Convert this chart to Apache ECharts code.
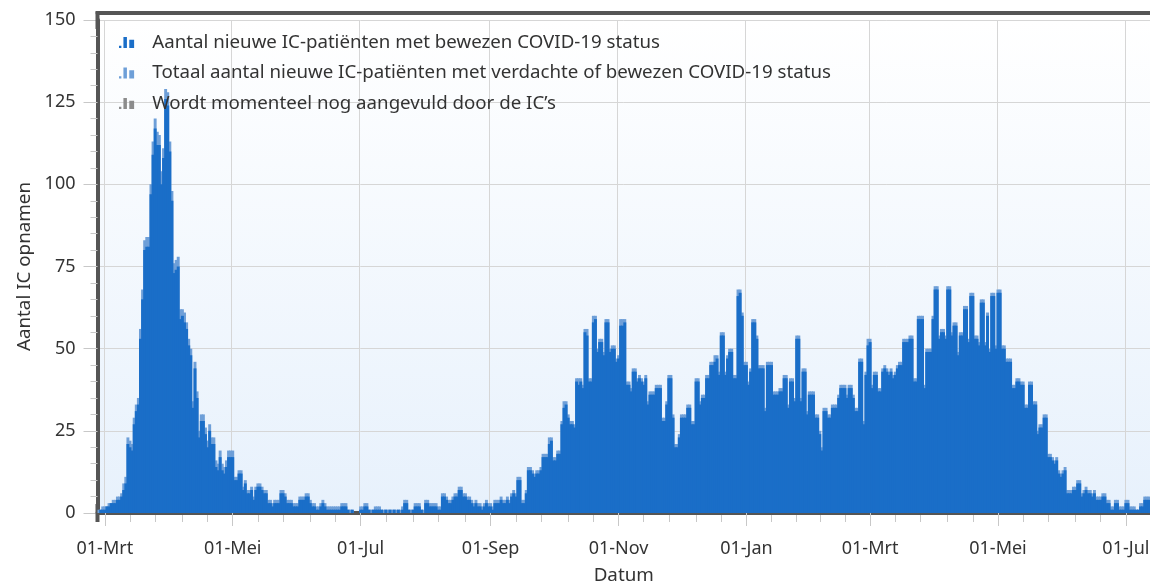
<!DOCTYPE html>
<html>
<head>
<meta charset="utf-8">
<script src="https://cdn.jsdelivr.net/npm/echarts@6/dist/echarts.min.js"></script>
<style>
html,body{margin:0;padding:0;background:#fff;}
#c{width:1150px;height:587px;}
</style>
</head>
<body>
<div id="c"></div>
<script>
// Eerste dag van de reeks (27 feb 2020), één categorie per dag
const startDatum = Date.UTC(2020, 1, 27);
const maanden = ['Jan','Feb','Mrt','Apr','Mei','Jun','Jul','Aug','Sep','Okt','Nov','Dec'];

// Totaal aantal nieuwe IC-patiënten (verdacht of bewezen), per dag
const totaal = [
/*0*/   1,1,2,2,2,3,3,4,4,5,
/*10*/  5,6,9,11,23,22,21,29,33,35,
/*20*/  56,68,83,84,84,100,113,120,116,115,
/*30*/  104,111,129,128,113,98,76,77,78,62,
/*40*/  62,61,58,53,50,34,46,37,25,30,
/*50*/  30,26,22,27,23,23,16,15,19,15,
/*60*/  14,16,19,19,19,11,11,13,13,8,
/*70*/  10,7,7,8,5,8,9,9,8,7,
/*80*/  7,4,4,3,4,4,4,7,7,6,
/*90*/  4,4,4,3,3,3,5,5,5,6,
/*100*/ 6,4,3,3,2,2,3,4,3,2,
/*110*/ 2,2,2,2,2,2,3,3,3,1,
/*120*/ 1,1,0,0,0,2,2,3,3,1,
/*130*/ 1,1,2,2,2,1,1,1,1,1,
/*140*/ 1,1,1,1,1,2,4,4,1,1,
/*150*/ 1,3,3,3,1,1,4,4,3,3,
/*160*/ 3,3,2,2,6,6,5,4,4,5,
/*170*/ 6,6,8,8,6,6,5,5,4,3,
/*180*/ 4,3,3,2,3,4,3,3,2,4,
/*190*/ 4,4,5,4,4,5,4,6,7,6,
/*200*/ 11,11,4,4,7,14,14,13,12,13,
/*210*/ 13,14,18,18,18,23,23,17,17,19,
/*220*/ 19,28,34,34,30,28,28,27,41,41,
/*230*/ 41,39,56,56,41,41,60,60,50,53,
/*240*/ 53,49,59,59,50,51,51,47,48,59,
/*250*/ 59,59,40,40,38,44,44,41,42,41,
/*260*/ 40,42,34,37,37,37,39,39,39,29,
/*270*/ 29,34,42,42,30,21,21,24,30,30,
/*280*/ 30,33,33,28,28,41,41,34,36,36,
/*290*/ 42,42,46,46,48,48,43,55,55,43,
/*300*/ 48,50,50,42,42,68,68,61,46,46,
/*310*/ 40,44,59,59,54,45,45,45,32,46,
/*320*/ 46,46,37,37,37,38,38,42,42,33,
/*330*/ 41,41,35,54,54,35,44,44,31,37,
/*340*/ 37,37,30,30,25,20,32,32,30,30,
/*350*/ 33,33,33,36,39,39,39,36,39,39,
/*360*/ 36,32,32,47,47,28,43,53,53,39,
/*370*/ 43,43,38,38,44,45,44,43,44,42,
/*380*/ 43,45,46,46,53,53,53,54,54,41,
/*390*/ 41,60,60,60,39,50,50,50,60,69,
/*400*/ 69,54,56,56,54,69,69,55,58,58,
/*410*/ 49,55,55,63,63,53,67,67,54,54,
/*420*/ 52,65,65,52,61,50,67,67,51,68,
/*430*/ 68,51,51,47,47,47,39,39,41,41,
/*440*/ 40,40,33,33,40,40,34,34,25,27,
/*450*/ 27,30,30,18,18,17,16,17,13,12,
/*460*/ 13,14,7,7,7,8,8,10,10,6,
/*470*/ 7,8,7,7,6,7,5,5,5,6,
/*480*/ 6,4,4,2,2,4,4,2,2,2,
/*490*/ 4,4,2,2,2,1,1,3,3,5,
/*500*/ 5,5
];

// Deel daarvan met (nog) alleen verdachte status (lichte top van de staaf)
const verdacht = [
/*0*/   1,0,1,1,0,1,0,1,1,1,
/*10*/  1,1,2,2,2,2,2,2,2,2,
/*20*/  3,3,3,3,3,3,4,3,4,3,
/*30*/  4,3,3,4,3,3,3,3,3,3,
/*40*/  2,3,2,2,2,2,2,2,2,2,
/*50*/  2,2,2,2,2,2,2,2,2,2,
/*60*/  2,2,2,2,2,1,1,1,1,1,
/*70*/  1,1,1,1,1,1,1,1,1,1,
/*80*/  1,1,1,1,1,1,1,1,1,1,
/*90*/  1,1,1,1,1,1,1,1,1,1,
/*100*/ 1,1,1,1,1,1,1,1,1,1,
/*110*/ 1,1,1,1,1,1,1,1,1,0,
/*120*/ 1,0,0,0,0,1,1,1,1,0,
/*130*/ 1,0,1,1,1,0,1,0,1,0,
/*140*/ 1,0,1,0,1,1,1,1,0,1,
/*150*/ 0,1,1,1,0,1,1,1,1,1,
/*160*/ 1,1,1,1,1,1,1,1,1,1,
/*170*/ 1,1,1,1,1,1,1,1,1,1,
/*180*/ 1,1,1,1,1,1,1,1,1,1,
/*190*/ 1,1,1,1,1,1,1,1,1,1,
/*200*/ 1,1,1,1,1,1,1,1,1,1,
/*210*/ 1,1,1,1,1,2,1,1,1,1,
/*220*/ 1,1,2,1,1,1,1,1,1,2,
/*230*/ 1,1,1,2,1,1,2,1,1,1,
/*240*/ 1,1,1,1,1,1,1,1,1,2,
/*250*/ 2,1,1,1,1,1,1,1,1,1,
/*260*/ 1,1,1,1,1,1,1,1,1,1,
/*270*/ 1,1,1,1,1,1,1,1,1,1,
/*280*/ 1,1,1,1,1,1,1,1,1,1,
/*290*/ 1,1,1,1,2,1,1,1,1,1,
/*300*/ 1,1,1,1,1,2,1,1,1,1,
/*310*/ 1,1,1,1,1,1,1,1,1,1,
/*320*/ 1,1,1,1,1,1,1,1,1,1,
/*330*/ 1,1,1,1,1,1,1,1,1,1,
/*340*/ 1,1,1,1,1,1,1,1,1,1,
/*350*/ 1,1,1,1,1,1,1,1,1,1,
/*360*/ 1,1,1,1,1,1,1,2,1,1,
/*370*/ 1,1,1,1,1,1,1,1,1,1,
/*380*/ 1,1,1,1,1,1,1,1,1,1,
/*390*/ 1,1,1,1,1,1,1,1,1,1,
/*400*/ 1,1,1,1,1,1,1,1,1,1,
/*410*/ 1,1,1,1,1,1,1,1,1,1,
/*420*/ 1,1,1,1,1,1,1,1,1,1,
/*430*/ 1,1,1,1,1,1,1,1,1,1,
/*440*/ 1,1,1,1,1,1,1,1,1,1,
/*450*/ 1,1,1,1,1,1,1,1,1,1,
/*460*/ 1,1,1,1,1,1,1,1,1,1,
/*470*/ 1,1,1,1,1,1,1,1,1,1,
/*480*/ 1,1,1,1,1,1,1,1,1,1,
/*490*/ 1,1,1,1,1,0,0,1,1,1,
/*500*/ 1,1
];

// Wordt momenteel nog aangevuld (niet zichtbaar in dit venster)
const aangevuld = [];

const yTicks = [0, 25, 50, 75, 100, 125, 150];

const namen = [
  'Aantal nieuwe IC-patiënten met bewezen COVID-19 status',
  'Totaal aantal nieuwe IC-patiënten met verdachte of bewezen COVID-19 status',
  'Wordt momenteel nog aangevuld door de IC\u2019s'
];

// ---- afgeleide structuren ----
const dagen = totaal.map((_, i) => new Date(startDatum + i * 86400000));
const categorieen = dagen.map(d => d.toISOString().slice(0, 10));
const bewezen = totaal.map((t, i) => t - verdacht[i]);

const isMajor = i => { const d = dagen[i]; return d.getUTCDate() === 1 && d.getUTCMonth() % 2 === 0; };
const majors = [];
dagen.forEach((d, i) => { if (isMajor(i)) majors.push(i); });
const minorSet = new Set();
for (let k = 0; k + 1 < majors.length; k++) {
  const a = majors[k], b = majors[k + 1];
  for (let j = 1; j < 5; j++) minorSet.add(a + Math.round(j * (b - a) / 5));
}
const fmt = v => { const d = new Date(v + 'T00:00:00Z'); return '01-' + maanden[d.getUTCMonth()]; };

const FONT = 'Noto Sans';
const FS_TICK = 18;
const FS_LEG = 18.7;
const FS_NAME = 18.8;
const iconPath = 'path://M0,84h23v23h-23z M43,0h34v107h-34z M100,26h47v81h-47z';

const chart = echarts.init(document.getElementById('c'), null, {renderer: 'canvas'});
chart.setOption({
  animation: false,
  backgroundColor: '#ffffff',
  textStyle: {fontFamily: FONT},
  grid: {
    left: 97.5, right: 0, top: 20, bottom: 74,
    containLabel: false, outerBoundsMode: 'none',
    show: true, borderWidth: 0,
    backgroundColor: new echarts.graphic.LinearGradient(0, 0, 0, 1, [
      {offset: 0, color: '#ffffff'}, {offset: 1, color: '#e7f1fc'}
    ])
  },
  legend: {
    orient: 'vertical', left: 119, top: 32, padding: 0,
    itemWidth: 15.5, itemHeight: 11, itemGap: 9.5,
    textStyle: {fontFamily: FONT, fontSize: FS_LEG, color: '#333', lineHeight: 21, padding: [0, 0, 0, 13]},
    data: namen.map(n => ({name: n, icon: iconPath})),
    selectedMode: false
  },
  xAxis: [
    {
      type: 'category', data: categorieen, position: 'bottom', offset: 2,
      boundaryGap: true,
      axisLine: {show: true, lineStyle: {color: '#555', width: 4}},
      axisTick: {show: true, alignWithLabel: true, length: 13, interval: (i) => isMajor(i), lineStyle: {color: '#c8c8c8'}},
      axisLabel: {interval: (i) => isMajor(i), formatter: fmt, fontFamily: FONT, fontSize: FS_TICK, color: '#333', margin: 25},
      splitLine: {show: true, interval: (i) => isMajor(i), lineStyle: {color: '#d6d6d6', width: 1}},
      name: 'Datum', nameLocation: 'middle', nameGap: 51,
      nameTextStyle: {fontFamily: FONT, fontSize: FS_NAME, color: '#333'}
    },
    {
      type: 'category', data: categorieen, position: 'bottom', offset: 2,
      axisLine: {show: false}, axisLabel: {show: false}, splitLine: {show: false},
      axisTick: {show: true, alignWithLabel: true, length: 7, interval: (i) => minorSet.has(i), lineStyle: {color: '#c8c8c8'}}
    },
    {
      type: 'category', data: categorieen, position: 'top', offset: 7,
      axisLine: {show: true, lineStyle: {color: '#555', width: 4}},
      axisTick: {show: false}, axisLabel: {show: false}, splitLine: {show: false}
    }
  ],
  yAxis: {
    type: 'value', min: yTicks[0], max: yTicks[yTicks.length - 1], interval: 25,
    axisLine: {show: true, lineStyle: {color: '#555', width: 4},
      symbol: ['rect', 'rect'], symbolSize: [4, 18]},
    axisTick: {show: true, length: 14, lineStyle: {color: '#c8c8c8'}},
    minorTick: {show: true, splitNumber: 5, length: 7, lineStyle: {color: '#c8c8c8'}},
    axisLabel: {fontFamily: FONT, fontSize: FS_TICK, color: '#333', margin: 22},
    splitLine: {show: true, lineStyle: {color: '#d6d6d6', width: 1}},
    name: 'Aantal IC opnamen', nameLocation: 'middle', nameGap: 53,
    nameTextStyle: {fontFamily: FONT, fontSize: FS_NAME, color: '#333'}
  },
  series: [
    {name: namen[1], type: 'bar', data: totaal, barWidth: '140%', barGap: '-100%',
     itemStyle: {color: '#6e9fd8'}, emphasis: {disabled: true}, z: 1},
    {name: namen[0], type: 'bar', data: bewezen, barWidth: '140%', barGap: '-100%',
     itemStyle: {color: '#1a6ec8'}, emphasis: {disabled: true}, z: 2},
    {name: namen[2], type: 'bar', data: aangevuld, barWidth: '140%', barGap: '-100%',
     itemStyle: {color: '#8c8c8c'}, emphasis: {disabled: true}, z: 3}
  ]
});
</script>
</body>
</html>
